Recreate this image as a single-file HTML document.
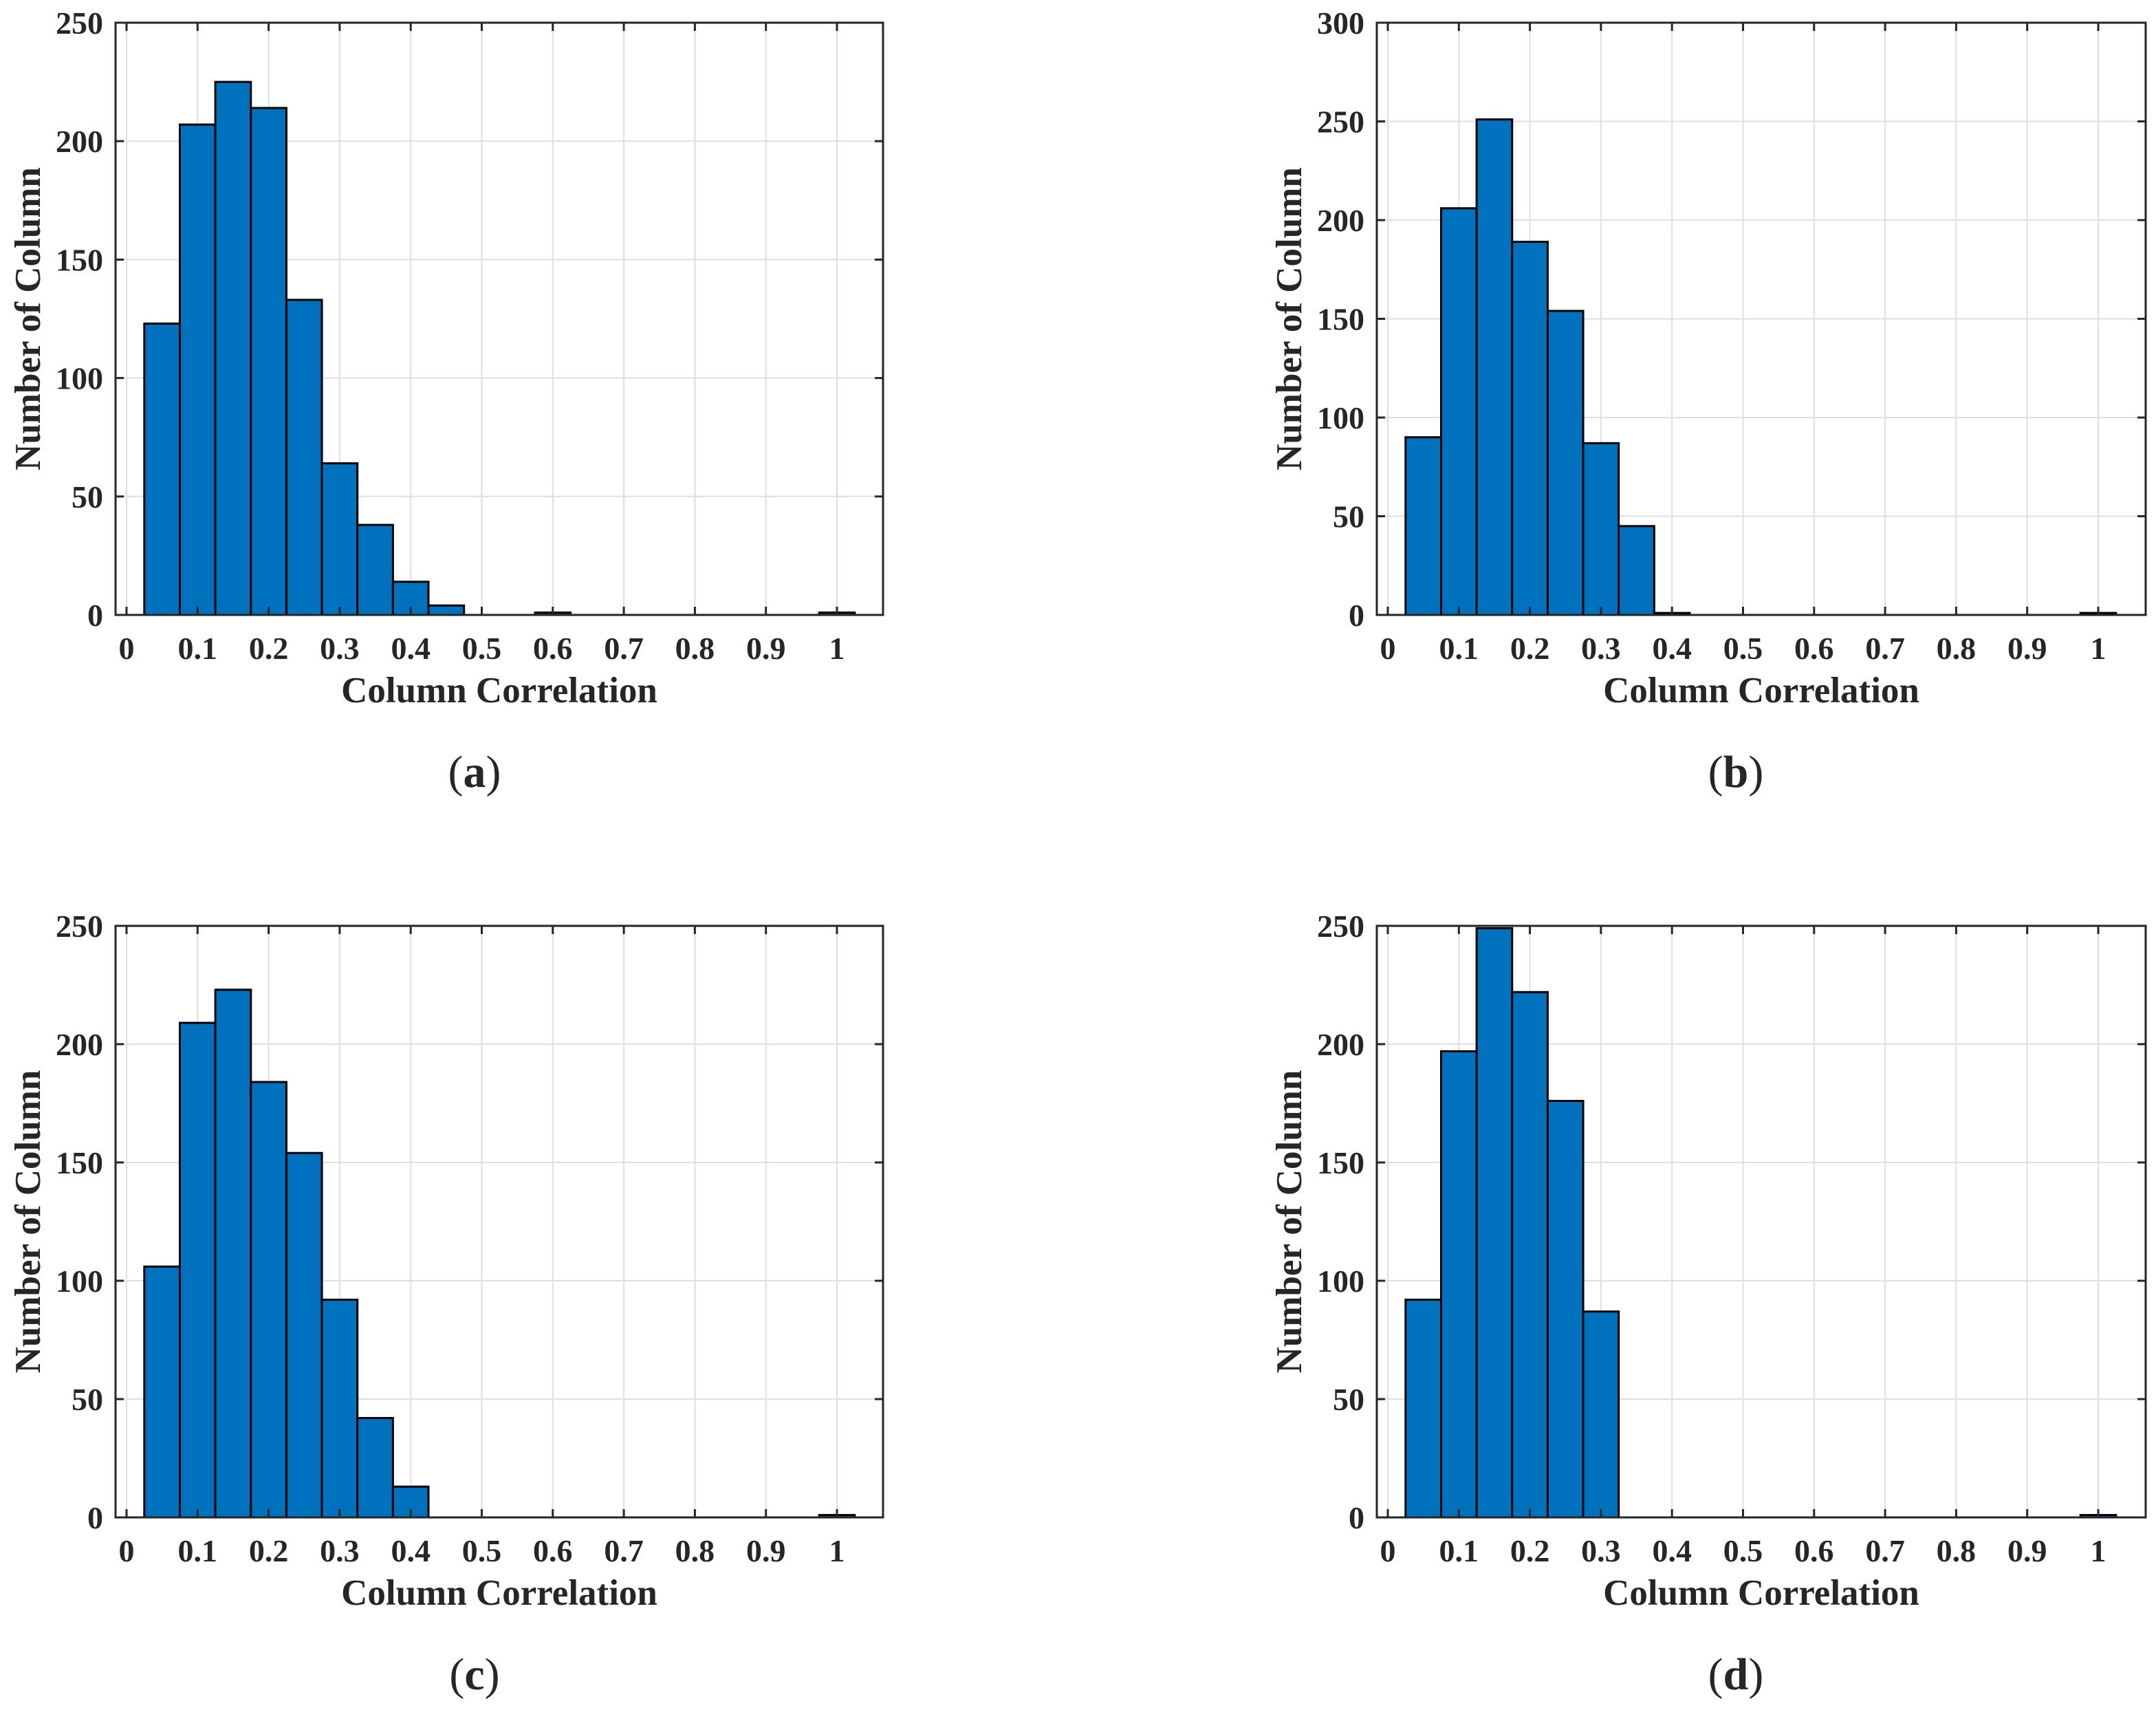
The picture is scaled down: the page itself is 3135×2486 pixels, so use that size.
<!DOCTYPE html>
<html><head><meta charset="utf-8"><style>
html,body{margin:0;padding:0;background:#fff;}
svg{display:block;}
text{font-family:"Liberation Serif",serif;fill:#262626;}
</style></head><body>
<svg id="fig" width="3135" height="2486" viewBox="0 0 3135 2486" xmlns="http://www.w3.org/2000/svg"></svg>
<script>
// Bin centers (width 0.05) and counts for each panel
const binCenters = [0.05,0.1,0.15,0.2,0.25,0.3,0.35,0.4,0.45,0.5,0.55,0.6,0.65,0.7,0.75,0.8,0.85,0.9,0.95,1.0];
const countsA = [123,207,225,214,133,64,38,14,4,0,0,1,0,0,0,0,0,0,0,1];
const countsB = [90,206,251,189,154,87,45,1,0,0,0,0,0,0,0,0,0,0,0,1];
const countsC = [106,209,223,184,154,92,42,13,0,0,0,0,0,0,0,0,0,0,0,1];
const countsD = [92,197,249,222,176,87,0,0,0,0,0,0,0,0,0,0,0,0,0,1];
const xTicks = [0,0.1,0.2,0.3,0.4,0.5,0.6,0.7,0.8,0.9,1];
const xTickLabels = ["0","0.1","0.2","0.3","0.4","0.5","0.6","0.7","0.8","0.9","1"];
const yTicksA = [0,50,100,150,200,250];
const yTicksB = [0,50,100,150,200,250,300];
const binWidth = 0.05;

const NS = "http://www.w3.org/2000/svg";
const svg = document.getElementById('fig');
function mk(tag, attrs, parent){
  const e = document.createElementNS(NS, tag);
  for (const k in attrs) e.setAttribute(k, attrs[k]);
  (parent||svg).appendChild(e);
  return e;
}

const panels = [
  {id:'a', L:168, R:1284, T:33, B:894, ymax:250, yt:yTicksA, counts:countsA, lx:690},
  {id:'b', L:2002, R:3120, T:33, B:894, ymax:300, yt:yTicksB, counts:countsB, lx:2524},
  {id:'c', L:168, R:1284, T:1346, B:2206, ymax:250, yt:yTicksA, counts:countsC, lx:690},
  {id:'d', L:2002, R:3120, T:1346, B:2206, ymax:250, yt:yTicksA, counts:countsD, lx:2524}
];

panels.forEach(p => {
  const g = mk('g', {});
  
  
  const x0 = p.L + 16;
  const pxPer = 1033;
  const X = v => x0 + v * pxPer;
  const Y = v => p.B - (v / p.ymax) * (p.B - p.T);

  xTicks.forEach(t => {
    const l = mk('line', {x1:X(t), x2:X(t), y1:p.T, y2:p.B, stroke:'#dfdfdf', 'stroke-width':2}, g);
    
    
  });
  p.yt.forEach(t => {
    const l = mk('line', {x1:p.L, x2:p.R, y1:Y(t), y2:Y(t), stroke:'#dfdfdf', 'stroke-width':2}, g);
    
    
  });

  p.counts.forEach((c, i) => {
    if (c <= 0) return;
    const xa = X(binCenters[i] - binWidth/2), xb = X(binCenters[i] + binWidth/2);
    const r = mk('rect', {x:xa, y:Y(c), width:xb-xa, height:p.B - Y(c), fill:'#0072BD', stroke:'#000', 'stroke-width':3}, g);
    
    
  });

  const box = mk('rect', {x:p.L, y:p.T, width:p.R-p.L, height:p.B-p.T, fill:'none', stroke:'#262626', 'stroke-width':3}, g);
  
  

  xTicks.forEach((t, i) => {
    mk('line', {x1:X(t), x2:X(t), y1:p.B, y2:p.B-12, stroke:'#262626', 'stroke-width':3}, g);
    mk('line', {x1:X(t), x2:X(t), y1:p.T, y2:p.T+12, stroke:'#262626', 'stroke-width':3}, g);
    const tx = mk('text', {x:X(t), y:p.B+64, 'font-size':46, 'font-weight':'bold', 'text-anchor':'middle'}, g);
    tx.textContent = xTickLabels[i];
    
    
  });
  p.yt.forEach(t => {
    mk('line', {x1:p.L, x2:p.L+12, y1:Y(t), y2:Y(t), stroke:'#262626', 'stroke-width':3}, g);
    mk('line', {x1:p.R, x2:p.R-12, y1:Y(t), y2:Y(t), stroke:'#262626', 'stroke-width':3}, g);
    const ty = mk('text', {x:p.L-18, y:Y(t)+16, 'font-size':46, 'font-weight':'bold', 'text-anchor':'end'}, g);
    ty.textContent = String(t);
    
    
  });

  const xt = mk('text', {x:(p.L+p.R)/2, y:p.B+127, 'font-size':53, 'font-weight':'bold', 'text-anchor':'middle'}, g);
  xt.textContent = 'Column Correlation';
  
  
  const ycx = p.L - 110, ycy = (p.T+p.B)/2;
  const yt = mk('text', {x:ycx, y:ycy, 'font-size':53, 'font-weight':'bold', 'text-anchor':'middle', transform:'rotate(-90 '+ycx+' '+ycy+')'}, g);
  yt.textContent = 'Number of Column';
  
  

  const sl = mk('text', {x:p.lx, y:p.B+250, 'font-size':66, 'text-anchor':'middle'}, g);
  sl.innerHTML = '(<tspan font-weight="bold">' + p.id + '</tspan>)';
  
  
});
</script>
</body></html>
